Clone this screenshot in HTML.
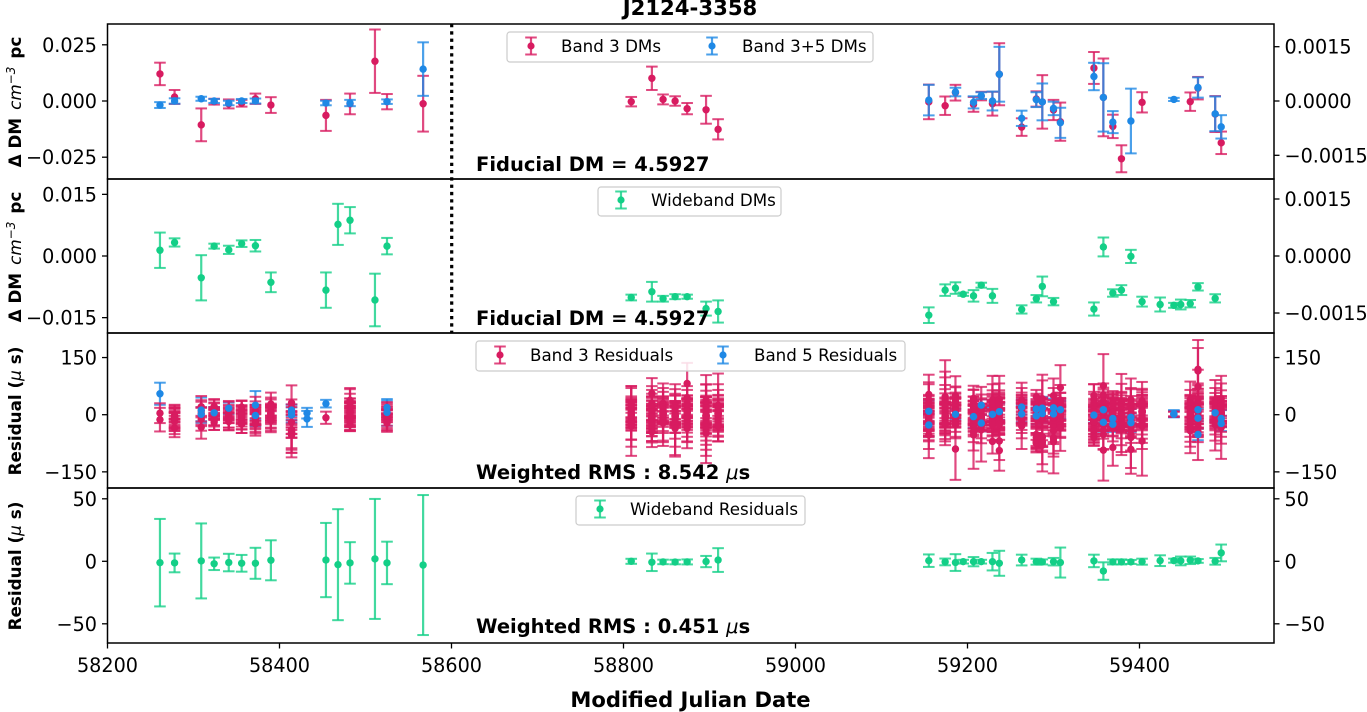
<!DOCTYPE html>
<html lang="en">
<head>
<meta charset="utf-8">
<title>J2124-3358 timing residuals</title>
<style>
  html, body { margin: 0; padding: 0; background: #fff; }
  body { width: 1367px; height: 712px; overflow: hidden; }
  svg { display: block; font-family: "DejaVu Sans", "Liberation Sans", sans-serif; }
  .tick { font-size: 19.2px; fill: #000; }
  .legend-text { font-size: 16.7px; fill: #000; }
  .note { font-size: 19.5px; font-weight: bold; fill: #000; }
  .ylabel { font-size: 16.8px; font-weight: bold; fill: #000; }
  .math { font-style: italic; font-weight: normal; }
</style>
</head>
<body>
<svg id="chart" width="1367" height="712" viewBox="0 0 1367 712" xmlns="http://www.w3.org/2000/svg">
  <rect x="0" y="0" width="1367" height="712" fill="#fff"/>
  <g id="marks"></g>
  <line x1="451.7" y1="24" x2="451.7" y2="333" stroke="#000" stroke-width="3.2" stroke-dasharray="3.3 4"/>
  <g id="axes"></g>

  <text x="690" y="15" text-anchor="middle" font-size="21.2px" font-weight="bold">J2124-3358</text>
  <text x="690.5" y="707" text-anchor="middle" font-size="21.1px" font-weight="bold">Modified Julian Date</text>

  <text class="ylabel" transform="translate(21,102) rotate(-90)" text-anchor="middle">Δ DM<tspan class="math" dx="8">cm</tspan><tspan class="math" font-size="12px" dy="-6">−3</tspan><tspan dy="6" dx="8">pc</tspan></text>
  <text class="ylabel" transform="translate(21,257) rotate(-90)" text-anchor="middle">Δ DM<tspan class="math" dx="8">cm</tspan><tspan class="math" font-size="12px" dy="-6">−3</tspan><tspan dy="6" dx="8">pc</tspan></text>
  <text class="ylabel" transform="translate(21,411) rotate(-90)" text-anchor="middle">Residual (<tspan class="math">μ</tspan> s)</text>
  <text class="ylabel" transform="translate(21,566) rotate(-90)" text-anchor="middle">Residual (<tspan class="math">μ</tspan> s)</text>

  <text class="note" x="476" y="171">Fiducial DM = 4.5927</text>
  <text class="note" x="476" y="325">Fiducial DM = 4.5927</text>
  <text class="note" x="476" y="479">Weighted RMS : 8.542 <tspan class="math">μ</tspan>s</text>
  <text class="note" x="476" y="633">Weighted RMS : 0.451 <tspan class="math">μ</tspan>s</text>

  <g>
    <rect x="507" y="32" width="366" height="30" rx="3" fill="#fff" fill-opacity=".85" stroke="#ccc" stroke-width="1.2"/>
    <g id="legend-a"></g>
    <text class="legend-text" x="561" y="52">Band 3 DMs</text>
    <text class="legend-text" x="742" y="52">Band 3+5 DMs</text>
  </g>
  <g>
    <rect x="598" y="187" width="183" height="29" rx="3" fill="#fff" fill-opacity=".85" stroke="#ccc" stroke-width="1.2"/>
    <g id="legend-b"></g>
    <text class="legend-text" x="651" y="206">Wideband DMs</text>
  </g>
  <g>
    <rect x="476" y="341" width="429" height="30" rx="3" fill="#fff" fill-opacity=".85" stroke="#ccc" stroke-width="1.2"/>
    <g id="legend-c"></g>
    <text class="legend-text" x="530" y="361">Band 3 Residuals</text>
    <text class="legend-text" x="754" y="361">Band 5 Residuals</text>
  </g>
  <g>
    <rect x="576" y="496" width="229" height="29" rx="3" fill="#fff" fill-opacity=".85" stroke="#ccc" stroke-width="1.2"/>
    <g id="legend-d"></g>
    <text class="legend-text" x="630" y="515">Wideband Residuals</text>
  </g>
</svg>

<script>
// ---- tick labels ----
const mjdTicks = [58200, 58400, 58600, 58800, 59000, 59200, 59400];
const bandDmLeftTicks = [0.025, 0, -0.025];
const bandDmLeftLabels = ["0.025", "0.000", "−0.025"];
const bandDmRightTicks = [0.0015, 0, -0.0015];
const bandDmRightLabels = ["0.0015", "0.0000", "−0.0015"];
const wideDmLeftTicks = [0.015, 0, -0.015];
const wideDmLeftLabels = ["0.015", "0.000", "−0.015"];
const wideDmRightTicks = [0.0015, 0, -0.0015];
const wideDmRightLabels = ["0.0015", "0.0000", "−0.0015"];
const bandResTicks = [150, 0, -150];
const bandResLabels = ["150", "0", "−150"];
const wideResTicks = [50, 0, -50];
const wideResLabels = ["50", "0", "−50"];

// ---- panel 1: band DMs ----
const band3DmEpochs = [58261,58278,58309,58324,58341,58356,58372,58390,58454,58482,58511,58525,58567,58809,58833,58846,58860,58874,58896,58910,59155,59174,59186,59207,59216,59229,59237,59263,59280,59287,59300,59308,59347,59358,59369,59379,59403,59459,59468,59488,59495];
const band3DmValues = [.01205,.0018,-.0106,-.0003,-.0013,-.001,.001,-.0018,-.0064,-.0013,.0177,-.0003,-.0012,-.0003,.0101,.0007,0,-.0034,-.0039,-.0126,-.0004,-.0021,.0037,-.0015,.0022,-.0012,.0119,-.0116,.0009,-.0004,-.004,-.0092,.0147,.0016,-.0113,-.0257,-.0006,-.0003,.0057,-.0058,-.0186];
const band3DmErrors = [.005,.0031,.0073,.0013,.002,.0015,.0023,.0035,.0069,.0046,.0141,.0034,.0124,.0021,.0052,.0022,.0021,.0025,.0062,.0045,.0077,.0041,.0035,.0033,.0019,.0053,.0138,.0039,.0034,.0119,.0045,.0085,.0071,.0173,.0052,.006,.0045,.0041,.005,.008,.005];
const band35DmEpochs = [58261,58278,58309,58324,58341,58356,58372,58454,58482,58525,58567,59155,59186,59207,59216,59229,59237,59263,59280,59287,59300,59308,59347,59358,59369,59390,59440,59468,59488,59495];
const band35DmValues = [-.0018,0,.001,0,-.0009,0,0,-.0009,-.0009,-.0003,.0142,.0004,.004,-.0006,.0024,0,.0119,-.0077,.0006,-.0004,-.0033,-.0097,.0109,.0016,-.0094,-.0089,.0007,.006,-.0057,-.0115];
const band35DmErrors = [.0013,.0012,.0009,.0009,.001,.0009,.0011,.001,.0014,.001,.0119,.0068,.0019,.0027,.0015,.0042,.0122,.0034,.0033,.0082,.003,.0067,.0061,.0152,.0049,.0144,.0007,.0045,.0077,.0052];

// ---- panel 2: wideband DMs ----
const wideDmEpochs = [58261,58278,58309,58324,58341,58356,58372,58390,58454,58468,58482,58511,58525,58809,58833,58846,58860,58874,58896,58910,59155,59174,59186,59195,59207,59216,59229,59263,59280,59287,59300,59347,59358,59369,59379,59390,59403,59424,59440,59448,59459,59468,59488];
const wideDmValues = [.0014,.0033,-.0053,.0024,.0015,.003,.0025,-.0064,-.0083,.0077,.0087,-.0107,.0024,-.0101,-.0087,-.0104,-.0099,-.0099,-.0128,-.0135,-.0144,-.0083,-.0078,-.0093,-.0097,-.0071,-.0097,-.013,-.0104,-.0074,-.0111,-.0129,.0022,-.009,-.0083,-.0001,-.0111,-.0118,-.012,-.0118,-.0116,-.0075,-.0103];
const wideDmErrors = [.0043,.001,.0055,.0006,.001,.0008,.0014,.0024,.0043,.005,.0032,.0064,.002,.0007,.0024,.0007,.0006,.0005,.0017,.0027,.0019,.0014,.0014,.0004,.0014,.0006,.0017,.001,.0009,.0024,.0009,.0016,.0023,.0009,.0012,.0016,.0012,.0017,.0006,.0012,.0009,.0009,.001];

// ---- panel 3: band residuals, one [value, error] list per epoch ----
const band5ResidualEpochs = [58261,58309,58324,58341,58372,58414,58432,58454,58525,59155,59186,59207,59216,59229,59237,59263,59280,59287,59300,59308,59347,59358,59369,59390,59440,59468,59488,59495];
const band5ResidualPoints = [
  [[55,29]], [[12,33],[1,18]], [[5,15]], [[17,15]], [[25,37],[-2,28]], [[12,15],[6,20],[-1,20]], [[4,14],[-11,21]], [[29,10]], [[19,18],[6,35]],
  [[9,28],[-27,30]], [[1,14]], [[-5,30]], [[25,15],[-22,22]], [[1,18]], [[8,22]], [[20,20],[2,22]], [[15,20],[-3,22]], [[17,30],[3,24]], [[18,24],[2,22]], [[13,24]],
  [[-1,20]], [[13,22],[-20,24]], [[-10,22],[-25,20]], [[-7,22],[-21,24]], [[2,8],[1,8],[3,9]], [[13,30],[-9,25],[-52,15]], [[5,24]], [[-10,22],[-23,20]]
];
const band3ResidualEpochs = [58261,58278,58309,58324,58341,58356,58372,58390,58414,58454,58482,58525,58809,58833,58846,58860,58874,58896,58910,59155,59174,59186,59207,59216,59229,59237,59263,59280,59287,59300,59308,59347,59358,59369,59379,59390,59403,59440,59459,59468,59488,59495];
const band3ResidualPoints = [
  [[4,26],[-13,31]],
  [[-35,24],[-4,22],[-8,25],[-10,28],[-12,30],[-14,20],[-16,35],[-6,30],[-18,25],[-2,28]],
  [[21,28],[10,28],[4,30],[-5,25],[-12,30],[-33,30]],
  [[22,19],[14,25],[8,22],[2,30],[-6,25],[-12,28],[-20,20],[-16,12]],
  [[12,24],[6,28],[0,22],[-4,30],[-8,26],[-12,28],[-18,23]],
  [[20,17],[12,25],[6,30],[2,22],[-3,28],[-8,30],[-14,25],[-20,28],[-25,23]],
  [[10,37],[5,30],[0,25],[-4,30],[-10,28],[-14,35],[-20,25],[-24,31]],
  [[28,30],[20,25],[12,28],[6,20],[0,25],[-4,30],[-8,28],[-12,30],[-16,30]],
  [[31,46],[20,20],[-20,40],[-42,50],[-45,55],[-50,50],[-53,59],[-48,40],[2,25]],
  [[-8,16]],
  [[38,32],[32,35],[25,30],[18,25],[12,22],[6,25],[0,30],[-4,28],[-8,25],[-12,28],[-16,25],[-20,23],[-26,17]],
  [[18,15],[12,18],[6,20],[-4,25],[-10,25],[-16,29],[-20,20],[-22,20]],
  [[30,40],[25,50],[20,55],[14,30],[10,30],[6,25],[3,35],[0,40],[-4,30],[-8,26],[-12,30],[-16,50],[-20,45],[-24,60],[-30,78]],
  [[56,40],[30,45],[25,40],[20,35],[14,30],[8,40],[3,45],[-2,25],[-6,30],[-12,35],[-18,30],[-24,45],[-30,40],[-38,35],[-45,40]],
  [[30,52],[25,45],[20,40],[14,30],[8,40],[4,30],[0,25],[-3,45],[-8,35],[-12,60],[-18,50],[-22,60]],
  [[28,52],[22,45],[16,35],[10,45],[6,30],[2,30],[-3,25],[-8,40],[-12,35],[-18,45],[-24,60],[-30,80],[-36,70]],
  [[82,54],[45,30],[30,35],[22,28],[16,25],[10,32],[4,30],[0,40],[-6,28],[-12,35],[-18,40],[-24,48],[-30,40],[-36,52]],
  [[38,66],[30,50],[24,55],[18,45],[12,35],[6,40],[0,50],[-6,30],[-12,45],[-18,50],[-24,55],[-32,60],[-40,87],[-48,60]],
  [[25,83],[20,60],[15,50],[10,42],[5,35],[0,30],[-5,28],[-10,35],[-15,40],[-20,50],[-25,45],[-30,40]],
  [[53,52],[40,40],[30,55],[22,30],[14,35],[8,30],[2,40],[-4,35],[-10,30],[-16,40],[-22,45],[-30,40],[-40,50],[-53,61]],
  [[47,96],[40,73],[34,64],[28,50],[22,45],[16,40],[10,35],[4,30],[-2,32],[-8,35],[-14,40],[-20,50],[-27,53],[-24,40]],
  [[50,51],[44,30],[36,36],[28,30],[20,25],[12,32],[4,28],[-4,30],[-10,35],[-18,40],[-26,36],[-90,81]],
  [[43,33],[35,30],[26,40],[20,28],[12,35],[6,30],[0,25],[-6,30],[-14,38],[-22,35],[-32,40],[-44,50],[-53,89]],
  [[25,48],[18,35],[10,30],[2,25],[-6,35],[-14,30],[-22,40],[-30,45],[-40,83]],
  [[38,64],[30,50],[24,40],[16,35],[10,45],[4,30],[-2,40],[-8,38],[-14,40],[-22,35],[-27,40],[-70,32]],
  [[40,62],[32,50],[24,40],[16,38],[10,32],[4,40],[-2,35],[-10,42],[-18,35],[-26,40],[-69,50],[-94,53]],
  [[38,46],[30,40],[22,30],[14,25],[8,30],[2,28],[-4,25],[-10,30],[-16,32],[-22,40],[-30,60]],
  [[47,18],[30,25],[20,30],[12,25],[4,28],[-4,30],[-12,25],[-52,35],[-75,24],[-60,30],[-68,20]],
  [[42,63],[30,60],[20,25],[12,30],[4,35],[-4,30],[-12,28],[-58,40],[-80,69],[-60,25],[-70,60]],
  [[50,45],[30,40],[22,30],[15,35],[8,30],[2,28],[-6,35],[-14,40],[-22,35],[-32,40],[-42,35],[-62,40],[-71,83],[-60,50]],
  [[71,59],[38,40],[30,28],[22,35],[14,30],[6,35],[-2,28],[-10,32],[-18,40],[-26,35],[-35,60]],
  [[50,30],[40,40],[30,30],[22,32],[14,28],[8,30],[2,26],[-6,30],[-14,28],[-22,35],[-32,40],[-44,30],[-55,25],[-60,22]],
  [[76,83],[52,30],[36,35],[26,40],[16,30],[8,35],[0,30],[-8,35],[-16,40],[-28,35],[-52,40],[-93,80],[-40,50],[-20,30]],
  [[36,26],[28,30],[20,32],[12,30],[4,40],[-4,35],[-12,30],[-22,35],[-36,34],[-86,48],[-30,25]],
  [[33,74],[26,55],[20,40],[12,45],[4,35],[-4,40],[-12,50],[-20,60],[-28,70],[-38,68]],
  [[40,55],[30,40],[22,45],[14,35],[6,30],[0,40],[-8,35],[-16,45],[-24,50],[-34,60],[-52,45],[-91,64],[-60,80]],
  [[36,50],[28,40],[20,45],[12,40],[6,35],[0,30],[-6,28],[-12,40],[-18,45],[-24,50],[-69,91],[-30,60]],
  [[2,6],[1,7]],
  [[40,47],[30,35],[22,30],[15,35],[8,40],[2,28],[-4,32],[-10,35],[-18,40],[-26,45],[-34,50],[-42,59]],
  [[119,77],[115,60],[73,45],[40,42],[30,38],[20,30],[12,35],[4,28],[-4,30],[-12,40],[-22,35],[-32,40],[-44,75]],
  [[38,53],[30,40],[22,35],[14,30],[6,28],[0,30],[-6,35],[-12,40],[-18,50],[-26,68]],
  [[42,60],[32,50],[24,40],[14,35],[6,30],[-2,28],[-10,35],[-18,40],[-26,50],[-34,82]]
];
// Tightly clustered TOAs at the dense centre of each epoch, read as solid red blocks.
const band3ResidualCorePoints = [
  [],
  [[-4,16],[-6,13],[-5,10],[-3,7],[-7,4]],
  [],
  [[4,16],[2,13],[3,10],[5,7],[1,4]],
  [[-2,14],[-4,11],[-3,8],[-1,5],[-5,3]],
  [[-2,22],[-4,19],[-3,15],[-1,12],[-5,8],[-2,5]],
  [[-4,24],[-6,21],[-5,17],[-3,13],[-7,9],[-4,5]],
  [[4,25],[2,22],[3,18],[5,14],[1,10],[3,6]],
  [[-47,14],[-50,10],[-42,8],[-39,12]],
  [],
  [[7,35],[5,31],[6,27],[8,23],[4,19],[6,15],[7,11],[5,7]],
  [[0,20],[-2,17],[-1,13],[1,10],[-3,7],[-1,4]],
  [[3,30],[-1,26],[2,22],[0,18],[1,14],[3,10],[-1,6]],
  [[-5,52],[-9,47],[-6,42],[-8,37],[-4,32],[-10,27],[-7,22],[-5,17],[-8,12],[-6,7]],
  [[4,25],[2,21],[3,17],[5,13],[1,9],[3,5]],
  [[-2,31],[-4,27],[-3,23],[-1,19],[-5,15],[-2,11],[-4,7]],
  [[9,42],[7,37],[8,32],[10,27],[6,22],[8,17],[9,12],[7,7]],
  [[-2,48],[-4,43],[-3,38],[-1,33],[-5,28],[-2,23],[-4,18],[-3,13],[-1,8]],
  [[4,46],[2,41],[3,36],[5,31],[1,26],[3,21],[4,16],[2,11],[3,6]],
  [[-9,50],[-11,45],[-10,40],[-8,35],[-12,30],[-9,25],[-11,20],[-10,15],[-8,10],[-10,6]],
  [[-4,46],[-6,41],[-5,36],[-3,31],[-7,26],[-4,21],[-6,16],[-5,11],[-3,6]],
  [[11,44],[9,39],[10,34],[12,29],[8,24],[10,19],[11,14],[9,9]],
  [[-4,41],[-6,36],[-5,31],[-3,26],[-7,21],[-4,16],[-6,11],[-5,6]],
  [[-6,35],[-8,31],[-7,27],[-5,23],[-9,19],[-6,15],[-8,11],[-7,6]],
  [[1,46],[-1,41],[0,36],[2,31],[-2,26],[1,21],[-1,16],[0,11],[2,6]],
  [[4,54],[2,49],[3,44],[5,39],[1,33],[3,28],[4,22],[2,16],[3,10],[5,5]],
  [[17,41],[15,36],[16,31],[18,26],[14,21],[16,16],[17,11],[15,6]],
  [[4,37],[2,32],[3,27],[5,22],[1,17],[3,12],[4,7],[-72,24],[-70,16],[-74,8]],
  [[4,37],[2,32],[3,27],[5,22],[1,17],[3,12],[4,7],[-72,22],[-70,14],[-74,7]],
  [[-6,44],[-8,39],[-7,34],[-5,29],[-9,24],[-6,19],[-8,14],[-7,9]],
  [[1,42],[-1,37],[0,32],[2,27],[-2,22],[1,17],[-1,12],[0,7]],
  [[-17,50],[-19,45],[-18,40],[-16,35],[-20,30],[-17,25],[-19,20],[-18,15],[-16,10],[-18,5]],
  [[9,50],[7,45],[8,40],[10,35],[6,30],[8,25],[9,20],[7,15],[8,10]],
  [[6,48],[4,43],[5,38],[7,33],[3,28],[5,23],[6,18],[4,13],[5,8]],
  [[1,50],[-1,45],[0,40],[2,35],[-2,30],[1,25],[-1,20],[0,15],[2,10],[-1,5]],
  [[-15,44],[-17,39],[-16,34],[-14,29],[-18,24],[-15,19],[-17,14],[-16,9]],
  [[9,50],[7,45],[8,40],[10,35],[6,30],[8,25],[9,20],[7,15],[8,10]],
  [],
  [[1,42],[-1,37],[0,32],[2,27],[-2,22],[1,17],[-1,12],[0,7]],
  [[9,68],[7,61],[8,54],[10,47],[6,40],[8,33],[9,26],[7,19],[8,12]],
  [[5,42],[3,37],[4,32],[6,27],[2,22],[4,17],[5,12],[3,7]],
  [[5,38],[3,33],[4,28],[6,23],[2,18],[4,13],[5,8]]
];

// ---- panel 4: wideband residuals ----
const wideResEpochs = [58261,58278,58309,58324,58341,58356,58372,58390,58454,58468,58482,58511,58525,58567,58809,58833,58846,58860,58874,58896,58910,59155,59174,59186,59195,59207,59216,59229,59237,59263,59280,59287,59300,59308,59347,59358,59369,59379,59390,59403,59424,59440,59448,59459,59468,59488,59495];
const wideResValues = [-1.1,-1.3,.3,-2,-1,-1.6,-1.6,.8,1,-2.7,-1.3,1.9,-1.3,-3,0,-.8,-.5,-.6,-.5,-.2,1,.5,-.5,-1,-.3,-.3,-.3,-.3,-1.6,1,-.3,-.5,-.3,-1,.3,-7.8,-.5,-.5,-.5,-.3,.5,.5,.3,.8,.3,0,6.7];
const wideResErrors = [35,7.5,30,5,7,6.7,12.4,16,29.7,44.4,16.6,48,17,56,2,7,1.8,1.8,2,4.5,9.5,5,2.7,6.7,1.5,3.7,1.5,7,10,4.3,2.4,2,3,12,5,7,2,2,1.6,2.4,4.3,1.6,3.5,3,1.5,2.7,6.7];

// ---- colours ----
const RED = "#D81B60";
const BLUE = "#1E88E5";
const GREEN = "#13CF87";
const NS = "http://www.w3.org/2000/svg";
const marksRoot = document.getElementById("marks");
const axesRoot = document.getElementById("axes");

// ---- axis functions ----
function xScale(mjd) { return 107.5 + (mjd - 58200) * 0.86; }
function linearY(zeroPx, pxPerUnit) { return function (v) { return zeroPx - v * pxPerUnit; }; }
const panel1Y = linearY(101, 2248);
const panel1RightY = linearY(101, 36200);
const panel2Y = linearY(256, 4110);
const panel2RightY = linearY(256, 38000);
const panel3Y = linearY(414.7, 0.381);
const panel4Y = linearY(561.3, 1.25);

function el(tag, parent, attrs) {
  const node = document.createElementNS(NS, tag);
  for (const k in attrs) node.setAttribute(k, attrs[k]);
  parent.appendChild(node);
  return node;
}

function drawBars(parent, name, color, mjd, value, error, yf) {
  const x = xScale(mjd);
  const bar = el("line", parent, { x1: x, x2: x, y1: yf(value + error), y2: yf(value - error), stroke: color, "stroke-width": 2.2, "stroke-opacity": 0.8 });
  
  
  const top = el("line", parent, { x1: x - 5.8, x2: x + 5.8, y1: yf(value + error), y2: yf(value + error), stroke: color, "stroke-width": 2, "stroke-opacity": 0.8 });
  
  
  const low = el("line", parent, { x1: x - 5.8, x2: x + 5.8, y1: yf(value - error), y2: yf(value - error), stroke: color, "stroke-width": 2, "stroke-opacity": 0.8 });
  
  
}

function drawMarker(parent, name, color, mjd, value, yf) {
  const dot = el("circle", parent, { cx: xScale(mjd), cy: yf(value), r: 3.7, fill: color });
  
  
}

function drawSeries(name, color, epochs, values, errors, yf) {
  const g = el("g", marksRoot, {});
  
  
  epochs.forEach(function (mjd, i) {
    drawBars(g, name, color, mjd, values[i], errors[i], yf);
    drawMarker(g, name, color, mjd, values[i], yf);
  });
}

function eachPoint(epochs, points, fn) {
  epochs.forEach(function (mjd, i) {
    points[i].forEach(function (p) { fn(mjd, p[0], p[1]); });
  });
}

drawSeries("band-3-dm", RED, band3DmEpochs, band3DmValues, band3DmErrors, panel1Y);
drawSeries("band-3-5-dm", BLUE, band35DmEpochs, band35DmValues, band35DmErrors, panel1Y);
drawSeries("wideband-dm", GREEN, wideDmEpochs, wideDmValues, wideDmErrors, panel2Y);

// Panel 3 layering: blue bars, red bars, red markers, blue markers.
const blueBarLayer = el("g", marksRoot, {});


const redLayer = el("g", marksRoot, {});


const blueDotLayer = el("g", marksRoot, {});


eachPoint(band5ResidualEpochs, band5ResidualPoints, function (m, v, e) { drawBars(blueBarLayer, "band-5-residual", BLUE, m, v, e, panel3Y); });
eachPoint(band3ResidualEpochs, band3ResidualPoints, function (m, v, e) { drawBars(redLayer, "band-3-residual", RED, m, v, e, panel3Y); });
eachPoint(band3ResidualEpochs, band3ResidualCorePoints, function (m, v, e) { drawBars(redLayer, "band-3-residual", RED, m, v, e, panel3Y); });
eachPoint(band3ResidualEpochs, band3ResidualPoints, function (m, v) { drawMarker(redLayer, "band-3-residual", RED, m, v, panel3Y); });
eachPoint(band3ResidualEpochs, band3ResidualCorePoints, function (m, v) { drawMarker(redLayer, "band-3-residual", RED, m, v, panel3Y); });
eachPoint(band5ResidualEpochs, band5ResidualPoints, function (m, v) { drawMarker(blueDotLayer, "band-5-residual", BLUE, m, v, panel3Y); });

drawSeries("wideband-residual", GREEN, wideResEpochs, wideResValues, wideResErrors, panel4Y);

// ---- frames and ticks ----
function drawFrame(name, top, bottom) {
  const r = el("rect", axesRoot, { x: 107.5, y: top, width: 1166.5, height: bottom - top, fill: "none", stroke: "#000", "stroke-width": 1.5 });
  
  
}

function drawYTicks(name, ticks, labels, yf, side) {
  const left = side === "left";
  ticks.forEach(function (t, i) {
    const y = yf(t);
    const mark = el("line", axesRoot, { x1: left ? 107.5 : 1274, x2: left ? 102 : 1279.5, y1: y, y2: y, stroke: "#000", "stroke-width": 1.3 });
    
    
    const label = el("text", axesRoot, { class: "tick", x: left ? 97 : 1284.5, y: y + 7, "text-anchor": left ? "end" : "start" });
    label.textContent = labels[i];
    
    
  });
}

drawFrame("band-dm-panel", 24, 179);
drawFrame("wideband-dm-panel", 179, 333);
drawFrame("band-residual-panel", 333, 488);
drawFrame("wideband-residual-panel", 488, 643);

drawYTicks("band-dm-left", bandDmLeftTicks, bandDmLeftLabels, panel1Y, "left");
drawYTicks("band-dm-right", bandDmRightTicks, bandDmRightLabels, panel1RightY, "right");
drawYTicks("wideband-dm-left", wideDmLeftTicks, wideDmLeftLabels, panel2Y, "left");
drawYTicks("wideband-dm-right", wideDmRightTicks, wideDmRightLabels, panel2RightY, "right");
drawYTicks("band-residual-left", bandResTicks, bandResLabels, panel3Y, "left");
drawYTicks("band-residual-right", bandResTicks, bandResLabels, panel3Y, "right");
drawYTicks("wideband-residual-left", wideResTicks, wideResLabels, panel4Y, "left");
drawYTicks("wideband-residual-right", wideResTicks, wideResLabels, panel4Y, "right");

mjdTicks.forEach(function (t) {
  const x = xScale(t);
  const mark = el("line", axesRoot, { x1: x, x2: x, y1: 643, y2: 648.5, stroke: "#000", "stroke-width": 1.3 });
  
  
  const label = el("text", axesRoot, { class: "tick", x: x, y: 672, "text-anchor": "middle" });
  label.textContent = String(t);
  
  
});

// ---- legend handles ----
function legendHandle(groupId, color, x, cy) {
  const g = document.getElementById(groupId);
  const stem = el("line", g, { x1: x, x2: x, y1: cy - 8.5, y2: cy + 8.5, stroke: color, "stroke-width": 2.2, "stroke-opacity": 0.8 });
  
  
  const capA = el("line", g, { x1: x - 5.8, x2: x + 5.8, y1: cy - 8.5, y2: cy - 8.5, stroke: color, "stroke-width": 2, "stroke-opacity": 0.8 });
  
  
  const capB = el("line", g, { x1: x - 5.8, x2: x + 5.8, y1: cy + 8.5, y2: cy + 8.5, stroke: color, "stroke-width": 2, "stroke-opacity": 0.8 });
  
  
  const dot = el("circle", g, { cx: x, cy: cy, r: 3.6, fill: color });
  
  
}
legendHandle("legend-a", RED, 531, 46);
legendHandle("legend-a", BLUE, 712, 46);
legendHandle("legend-b", GREEN, 621, 200);
legendHandle("legend-c", RED, 500, 355);
legendHandle("legend-c", BLUE, 723, 355);
legendHandle("legend-d", GREEN, 600, 509);
</script>
</body>
</html>
